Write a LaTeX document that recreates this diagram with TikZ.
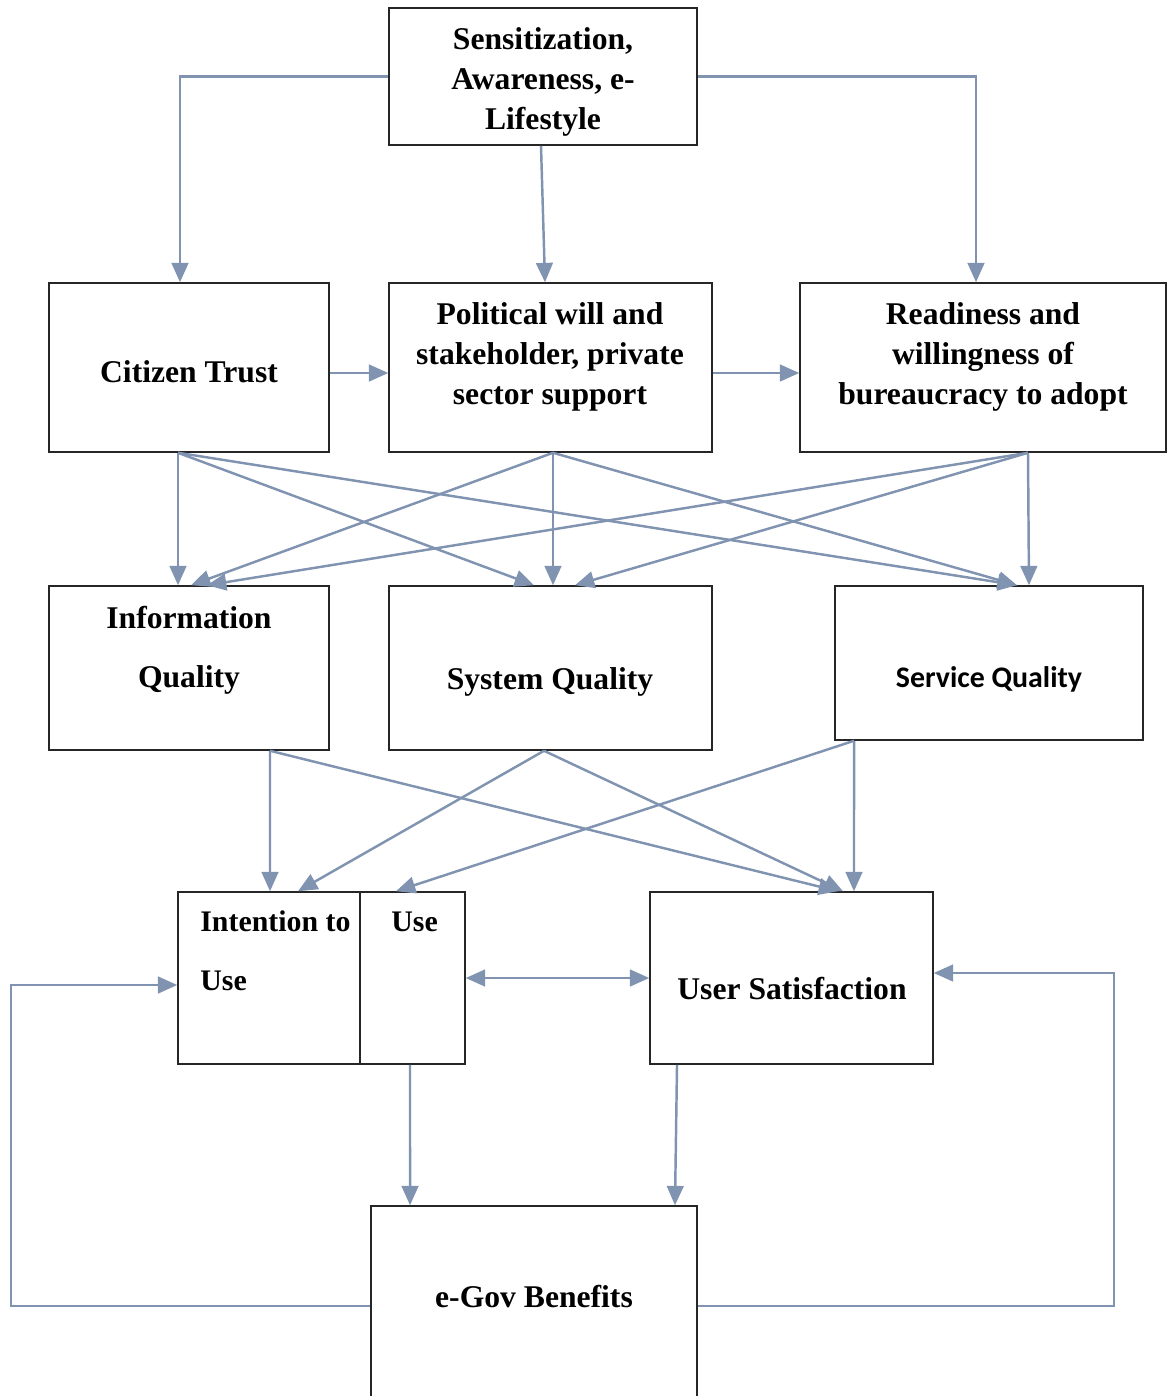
\documentclass[tikz,border=0pt]{standalone}
\usepackage{fontspec}
\setmainfont{Liberation Serif}
\newfontfamily\carlito{Carlito}
\usetikzlibrary{arrows.meta}
\definecolor{linkblue}{RGB}{128,147,177}

\begin{document}
\begin{tikzpicture}
[
    x=0.02cm, y=-0.02cm,
    >={Triangle[length=11pt,width=9.5pt]},
    box/.style={draw=black!85, line width=0.9pt, inner sep=0pt},
    txt/.style={inner sep=0pt, align=center, font=\bfseries\fontsize{18}{22.7}\selectfont},
    link/.style={draw=linkblue, line width=1.4pt, ->},
]
\useasboundingbox (0,0) rectangle (1169,1396);
\clip (0,0) rectangle (1169,1396);

% boxes
\node[box, minimum width=6.16cm, minimum height=2.74cm] (sens) at (543,76.5) {};
\node[box, minimum width=5.6cm, minimum height=3.38cm] (trust) at (189,367.5) {};
\node[box, minimum width=6.46cm, minimum height=3.38cm] (polit) at (550.5,367.5) {};
\node[box, minimum width=7.32cm, minimum height=3.38cm] (ready) at (983,367.5) {};
\node[box, minimum width=5.6cm, minimum height=3.28cm] (infoq) at (189,668) {};
\node[box, minimum width=6.46cm, minimum height=3.28cm] (sysq) at (550.5,668) {};
\node[box, minimum width=6.16cm, minimum height=3.08cm] (servq) at (989,663) {};
\node[box, minimum width=3.64cm, minimum height=3.44cm] (intent) at (269,978) {};
\node[box, minimum width=2.1cm, minimum height=3.44cm] (use) at (412.5,978) {};
\node[box, minimum width=5.66cm, minimum height=3.44cm] (usat) at (791.5,978) {};
\node[box, minimum width=6.52cm, minimum height=4.28cm] (benef) at (534,1313) {};

% labels
\node[txt] (sensT) at (543,82) {Sensitization,\\ Awareness, e-\\ Lifestyle};
\node[txt] (trustT) at (189,372) {Citizen Trust};
\node[txt] (politT) at (550,357) {Political will and\\ stakeholder, private\\ sector support};
\node[txt] (readyT) at (983,357) {Readiness and\\ willingness of\\ bureaucracy to adopt};
\node[txt] (infoqT) at (189,650) {Information\\[11pt] Quality};
\node[txt] (sysqT) at (550,682) {System Quality};
\node[txt, font=\carlito\bfseries\fontsize{17}{20}\selectfont] (servqT) at (989,679) {Service Quality};
\node[txt, anchor=base west, font=\bfseries\fontsize{17}{20}\selectfont] (intentT) at (200,931) {Intention to};
\node[txt, anchor=base west, font=\bfseries\fontsize{17}{20}\selectfont] (intentU) at (200,990) {Use};
\node[txt, anchor=base west, font=\bfseries\fontsize{17}{20}\selectfont] (useT) at (391,931) {Use};
\node[txt] (usatT) at (792,989) {User Satisfaction};
\node[txt] (benefT) at (534,1297) {e-Gov Benefits};

% top level
\draw[link] (sens.west) -| ([xshift=-0.18cm]trust.north);
\draw[link] ([xshift=-0.04cm]sens.south) -- ([xshift=-0.11cm]polit.north);
\draw[link] (sens.east) -| ([xshift=-0.14cm]ready.north);
\draw[link] ([yshift=-0.11cm]trust.east) -- ([yshift=-0.11cm]polit.west);
\draw[link] ([yshift=-0.11cm]polit.east) -- ([yshift=-0.11cm]ready.west);

% second level to qualities
\draw[link] ([xshift=-0.22cm]trust.south) -- ([xshift=-0.22cm]infoq.north);
\draw[link] ([xshift=-0.22cm]trust.south) -- ([xshift=-0.33cm]sysq.north);
\draw[link] ([xshift=-0.22cm]trust.south) -- ([xshift=0.56cm]servq.north);
\draw[link] ([xshift=0.05cm]polit.south) -- ([xshift=0.04cm]infoq.north);
\draw[link] ([xshift=0.05cm]polit.south) -- ([xshift=0.05cm]sysq.north);
\draw[link] ([xshift=0.05cm]polit.south) -- ([xshift=0.56cm]servq.north);
\draw[link] ([xshift=0.9cm]ready.south) -- ([xshift=0.36cm]infoq.north);
\draw[link] ([xshift=0.9cm]ready.south) -- ([xshift=0.49cm]sysq.north);
\draw[link] ([xshift=0.9cm]ready.south) -- ([xshift=0.8cm]servq.north);

% qualities to use and satisfaction
\draw[link] ([xshift=1.62cm]infoq.south) -- ([xshift=0.02cm]intent.north);
\draw[link] ([xshift=1.62cm]infoq.south) -- ([xshift=0.93cm]usat.north);
\draw[link] ([xshift=-0.13cm]sysq.south) -- ([xshift=0.58cm]intent.north);
\draw[link] ([xshift=-0.13cm]sysq.south) -- ([xshift=1.03cm]usat.north);
\draw[link] ([xshift=-2.7cm]servq.south) -- ([xshift=-0.33cm]use.north);
\draw[link] ([xshift=-2.7cm]servq.south) -- ([xshift=1.25cm]usat.north);

% use, satisfaction, benefits
\draw[link, <->] (use.east) -- (usat.west);
\draw[link] ([xshift=-0.05cm]use.south) -- ([xshift=-2.48cm]benef.north);
\draw[link] ([xshift=-2.29cm]usat.south) -- ([xshift=2.82cm]benef.north);
\draw[link] ([yshift=0.14cm]benef.west) -- ++(-359,0) |- ([yshift=-0.14cm]intent.west);
\draw[link] ([yshift=0.14cm]benef.east) -- ++(416,0) |- ([yshift=0.1cm]usat.east);
\end{tikzpicture}
\end{document}
